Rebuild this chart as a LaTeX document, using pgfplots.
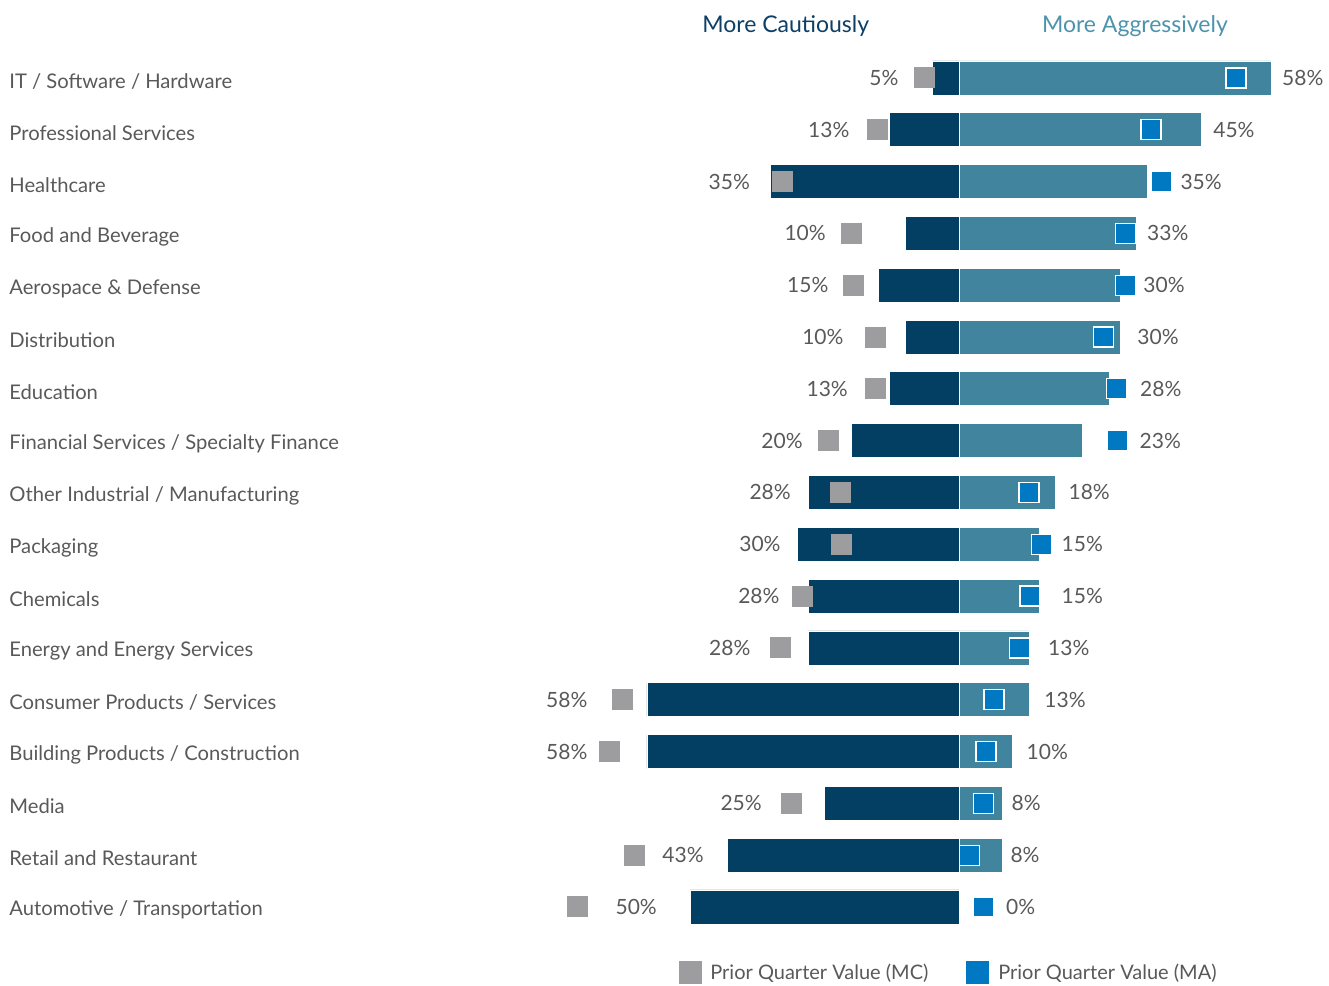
\documentclass[border=0pt]{standalone}
\usepackage{pgfplots}
\usepackage{pgfplotstable}
\pgfplotsset{compat=1.18}
\usepackage{fontspec}
\setmainfont{Lato}

\definecolor{mcbar}{HTML}{033F63}
\definecolor{mabar}{HTML}{41849D}
\definecolor{pmcgray}{HTML}{9D9D9F}
\definecolor{pmablue}{HTML}{0079C2}
\definecolor{txt}{HTML}{595959}
\definecolor{ttlmc}{HTML}{0E3F66}
\definecolor{ttlma}{HTML}{4C93AC}

% mc/ma: this quarter, pmc/pma: prior quarter, lmc/lma: label positions
\pgfplotstableread[col sep=comma]{
idx,cat,mc,ma,pmc,pma,lmc,lma
1,IT / Software / Hardware,5,58,6.5,51.5,11.2,60.0
2,Professional Services,13,45,15.2,35.7,20.3,47.2
3,Healthcare,35,35,32.9,37.7,38.8,41.1
4,Food and Beverage,10,33,19.9,30.9,24.7,34.9
5,Aerospace \& Defense,15,30,19.7,31.0,24.2,34.2
6,Distribution,10,30,15.6,26.8,21.4,33.1
7,Education,13,28,15.6,29.2,20.6,33.6
8,Financial Services / Specialty Finance,20,23,24.2,29.4,29.0,33.5
9,Other Industrial / Manufacturing,28,18,22.1,13.0,31.2,20.3
10,Packaging,30,15,21.9,15.4,33.1,19.0
11,Chemicals,28,15,29.0,13.2,33.3,19.0
12,Energy and Energy Services,28,13,33.1,11.2,38.7,16.5
13,Consumer Products / Services,58,13,62.5,6.5,69.0,15.8
14,Building Products / Construction,58,10,64.9,5.0,69.0,12.5
15,Media,25,8,31.2,4.6,36.6,9.7
16,Retail and Restaurant,43,8,60.4,1.9,47.4,9.5
17,Automotive / Transportation,50,0,71.0,4.5,56.1,8.7
}\data

\begin{document}
\begin{tikzpicture}
\begin{axis}[
  scale only axis,
  width=664.5pt, height=492pt,
  xmin=-178.25, xmax=68.77,
  ymin=-0.5055, ymax=18.487,
  y dir=reverse,
  clip=false,
  axis line style={draw=none},
  tick style={draw=none},
  xtick=\empty,
  ytick={1,...,17},
  yticklabels from table={\data}{cat},
  yticklabel style={anchor=west, inner sep=0pt, xshift=4.5pt, yshift=-1.6pt, text=txt, font=\fontsize{10.1}{12}\selectfont},
  bar width=17pt,
  legend style={at={(axis cs:-52.2,18.27)}, anchor=west, draw=none, fill=none,
    inner sep=0pt, legend columns=2, font=\fontsize{10}{12}\selectfont, text=txt,
    /tikz/every odd column/.append style={column sep=2.5pt},
    /tikz/every even column/.append style={column sep=17pt}},
  legend cell align=left,
]
\addplot[xbar, bar shift=0pt, fill=mcbar, draw=white, line width=0.4pt, forget plot]
  table[x expr=-\thisrow{mc}, y=idx]{\data};
\addplot[xbar, bar shift=0pt, fill=mabar, draw=white, line width=0.4pt, forget plot]
  table[x=ma, y=idx]{\data};
\addplot[only marks, color=pmcgray, mark=square*, mark size=5pt, mark options={fill=pmcgray, draw=pmcgray, line width=0pt}, forget plot]
  table[x expr=-\thisrow{pmc}, y=idx]{\data};
\addplot[only marks, color=pmablue, mark=square*, mark size=5pt, mark options={fill=pmablue, draw=white, line width=0.6pt}, forget plot]
  table[x=pma, y=idx]{\data};
\addplot[draw=none, forget plot, point meta=explicit symbolic,
  nodes near coords={\pgfplotspointmeta\%},
  every node near coord/.style={anchor=east, inner sep=0pt, text=txt, font=\fontsize{10.5}{12}\selectfont}]
  table[x expr=-\thisrow{lmc}, y=idx, meta=mc]{\data};
\addplot[draw=none, forget plot, point meta=explicit symbolic,
  nodes near coords={\pgfplotspointmeta\%},
  every node near coord/.style={anchor=west, inner sep=0pt, text=txt, font=\fontsize{10.5}{12}\selectfont}]
  table[x=lma, y=idx, meta=ma]{\data};
\addlegendimage{legend image code/.code={\fill[pmcgray] (0pt,-5.5pt) rectangle (11pt,5.5pt);}}
\addlegendentry{Prior Quarter Value (MC)}
\addlegendimage{legend image code/.code={\fill[pmablue] (0pt,-5.5pt) rectangle (11pt,5.5pt);}}
\addlegendentry{Prior Quarter Value (MA)}
\node[text=ttlmc, font=\fontsize{11.5}{13}\selectfont] at (axis cs:-32.2,0.0) {More Cautiously};
\node[text=ttlma, font=\fontsize{11.5}{13}\selectfont] at (axis cs:32.7,0.0) {More Aggressively};
\end{axis}
\end{tikzpicture}
\end{document}
